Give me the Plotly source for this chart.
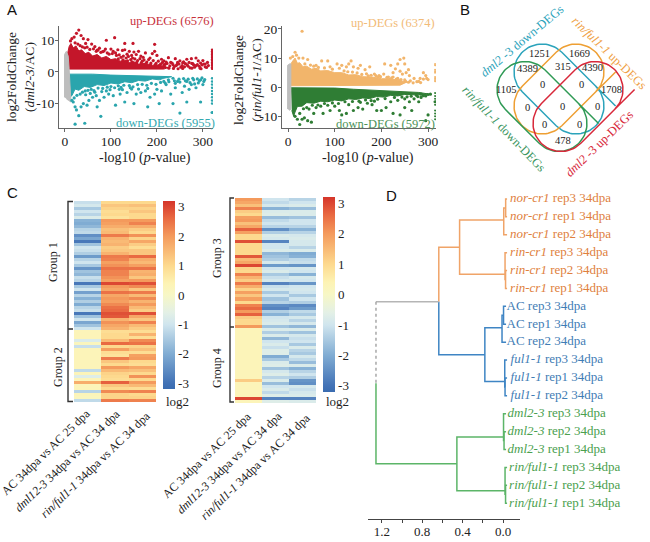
import numpy as np
import plotly.graph_objects as go

W, H = 650, 542
SERIF = "Liberation Serif"
SANS = "Liberation Sans"

# ---------- Panel A data ----------
a1_gray_x = [-1, -1, 3, 7, 9, 10, 13, 8, 3]
a1_gray_y = [-8, 5.5, 6.5, 5, 1, -1, -9.5, -9, -8.5]
a1_up_x = [6, 6, 9, 13, 18, 24, 30, 36, 44, 52, 60, 70, 80, 90, 100, 110, 120, 130, 140, 150, 160, 175, 190, 205, 215, 225, 215, 6]
a1_up_y = [0.9, 6, 8, 9, 7.6, 8.2, 6.6, 7, 5.8, 6.2, 5, 5.5, 4.4, 4.9, 3.9, 4.2, 3.4, 3.7, 3, 3.2, 2.5, 2.7, 2.1, 2.2, 1.7, 1.4, 0.9, 0.9]
a1_dn_x = [7, 60, 100, 200, 232, 215, 205, 190, 175, 160, 145, 130, 115, 100, 85, 70, 55, 42, 30, 22, 15, 10, 7]
a1_dn_y = [-0.7, -0.7, -1, -1.2, -1.5, -2.0, -2.5, -2.2, -2.9, -2.7, -3.4, -3.1, -3.8, -3.5, -4.3, -4, -4.9, -4.6, -5.8, -5.4, -7.5, -8, -7]
a1_up_pts_x = [30, 25, 35, 20, 15, 12, 40, 50, 108, 90, 130, 148, 195, 45, 58, 65, 75, 88, 100, 115, 125, 130, 140, 150, 160, 105, 110, 155, 165, 175, 190, 195, 200, 210, 215, 225, 230, 240, 245, 250, 258, 265, 270, 275, 280, 285, 290, 295, 300, 305, 310, 205, 215, 222, 235, 242, 248, 255, 262, 268, 278, 285, 292, 298, 305, 312, 85, 70, 135, 145, 170, 185,
               22, 28, 33, 38, 43, 48, 54, 62, 68, 72, 78, 82, 92, 96, 103, 112, 118, 122, 127, 133, 138, 143, 147, 152, 158, 163, 168, 172, 178, 182, 187, 192, 198, 203, 208, 212, 218, 220, 228, 233, 238, 244, 252, 256, 260, 266, 272, 276, 282, 288, 294, 302, 308, 116, 126, 136, 146, 156, 166, 176, 186, 196, 206, 216, 226, 236, 246, 256, 276, 296, 316]
a1_up_pts_y = [13.2, 12.2, 11.5, 11, 10.5, 9.8, 10.5, 10.2, 10.8, 10, 9, 9, 8.7, 9, 8.8, 8, 7.5, 7.2, 7.2, 7, 6.8, 7, 6.5, 6.3, 6.5, 6.5, 6, 5.5, 5, 6, 5.8, 6.5, 5.2, 4, 3.5, 4.5, 3, 4.2, 3, 3.5, 3.2, 4, 3, 4.2, 2.2, 4.4, 3.5, 2.8, 3.6, 2.5, 3, 2, 2.2, 2.7, 2.3, 2, 2.5, 2, 2.6, 1.8, 2.6, 2, 1.8, 2.2, 1.6, 2, 6.6, 6.9, 5.6, 5.2, 4.6, 4.4,
               9.2, 8.8, 8.3, 7.9, 7.6, 7.8, 7.1, 7.3, 6.5, 6.9, 6.2, 6.4, 6, 5.6, 5.8, 5.2, 5.4, 4.6, 5, 4.4, 4.9, 3.9, 4.4, 4.1, 3.6, 4.2, 3.4, 3.8, 3.1, 3.9, 2.8, 3.6, 2.7, 3.4, 2.5, 3, 2.4, 3.1, 1.9, 2.8, 1.7, 2.4, 1.5, 2.9, 1.6, 2.2, 1.3, 2.7, 1.5, 2.3, 1.2, 2.5, 1.4, 4.1, 3.8, 3.5, 3.2, 3, 2.9, 2.6, 2.3, 2.2, 1.9, 1.8, 1.2, 1.1, 1.0, 1.1, 1.2, 1.0]
a1_dn_pts_x = [22, 43, 78, 30, 25, 22, 18, 15, 35, 40, 48, 52, 60, 70, 75, 68, 85, 95, 105, 110, 130, 150, 180, 205, 235, 250, 265, 295, 320, 120, 135, 155, 165, 175, 185, 195, 200, 210, 220, 230, 240, 245, 255, 260, 265, 270, 275, 280, 285, 290, 295, 300, 302, 225, 235, 215, 145, 125, 90, 65, 55, 45,
               20, 26, 33, 38, 44, 50, 57, 63, 72, 82, 92, 100, 108, 116, 122, 128, 140, 148, 158, 168, 178, 188, 198, 208, 218, 226, 238, 248, 258, 268, 278, 288, 298, 240, 250, 262, 272, 282, 292, 304, 180, 160, 142, 118, 98, 80]
a1_dn_pts_y = [-16.5, -16.2, -14, -13.8, -12, -11, -9.5, -9, -11, -10, -10.5, -9, -8, -11, -9, -7.5, -8, -7, -7.5, -10.5, -9.5, -10, -11, -10, -10, -13, -9.5, -9.5, -12.8, -7, -6.5, -7, -6.5, -6, -8, -7, -5.5, -6, -4, -7, -5, -3, -6.5, -4.5, -3, -5.5, -4, -2.5, -5, -3.5, -2.5, -4, -3, -2.5, -2, -3, -5.4, -5.6, -6, -6.4, -6.8, -7.2,
               -8.2, -7.4, -7, -6.4, -6, -5.8, -5.5, -5.9, -5.1, -5.2, -4.8, -4.6, -5, -4.4, -4.9, -4.2, -4.3, -4.7, -4, -3.9, -4.2, -3.6, -3.9, -3.3, -3.5, -3.1, -2.8, -2.3, -2.1, -2.3, -2.0, -2.2, -1.9, -3.6, -3.2, -2.8, -3.4, -3.8, -2.9, -2.4, -5.2, -5.4, -5.0, -5.5, -5.6, -6.2]
a1_edge_up_y = [1, 1.5, 2, 2.5, 3, 3.5, 4, 4.5, 5, 5.5, 6, 6.5, 7]
a1_edge_dn_y = [-2, -3, -4, -5, -6, -7, -8, -9, -10]

a2_gray_x = [-1, -1, 3, 6, 6, 3]
a2_gray_y = [-7.5, 7.5, 8, 8, -7.5, -8]
a2_up_x = [6, 6, 10, 15, 20, 25, 32, 40, 50, 60, 70, 85, 100, 115, 130, 145, 160, 180, 200, 220, 240, 255, 240, 6]
a2_up_y = [0.5, 8, 9, 10, 8.2, 8.4, 7, 7.2, 6.2, 6.5, 5.6, 5.7, 5, 5, 4.2, 4.3, 3.6, 3.5, 2.9, 2.9, 2.2, 1.8, 0.7, 0.5]
a2_dn_x = [6, 100, 140, 200, 280, 300, 290, 270, 250, 235, 220, 205, 190, 175, 160, 145, 130, 115, 100, 85, 70, 55, 40, 30, 20, 15, 12, 8]
a2_dn_y = [-0.2, -0.3, -0.7, -1.2, -1.8, -2.3, -2.6, -2.6, -2.5, -3, -2.8, -3.4, -3.2, -3.9, -3.7, -4.2, -4, -4.7, -4.4, -5, -4.8, -5.5, -5.3, -6.5, -6.6, -8.5, -10, -8]
a2_up_pts_x = [30, 5, 15, 18, 10, 23, 32, 42, 72, 85, 105, 135, 130, 115, 125, 140, 155, 150, 165, 175, 207, 220, 240, 248, 250, 235, 240, 230, 225, 253, 258, 245, 260, 270, 280, 290, 295, 283, 290, 297, 300, 185, 195, 205, 215, 225, 235, 250, 90, 60, 110,
               36, 48, 55, 65, 78, 95, 120, 128, 138, 148, 158, 168, 178, 188, 198, 212, 222, 232, 242, 252, 262, 268, 276, 284, 172, 192, 218, 238, 258]
a2_up_pts_y = [19.2, 10, 12, 11, 10.5, 10, 10, 9.5, 9, 9, 8, 9, 8, 7.5, 7, 7, 7.5, 6.5, 6, 7, 8, 7.5, 9.5, 10, 8, 8, 5.5, 6.3, 5, 5, 6, 4.5, 4, 3, 2, 5, 4, 3, 2.8, 3, 2.6, 4.5, 4, 4.5, 3.5, 3.5, 3, 2.5, 7, 7.5, 6.5,
               8, 7.6, 7.2, 6.8, 6.6, 6.2, 5.6, 5.3, 5.2, 4.9, 4.4, 4.6, 4.1, 4, 3.6, 3.4, 3.2, 2.8, 2.6, 2.0, 2.2, 1.5, 1.9, 1.6, 3.9, 3.5, 2.6, 2.3, 1.7]
a2_dn_pts_x = [25, 50, 42, 30, 35, 20, 15, 25, 55, 60, 75, 90, 100, 110, 115, 125, 140, 150, 160, 190, 200, 210, 225, 240, 250, 265, 280, 295, 300, 170, 180, 220, 235, 250, 260, 270, 285, 295, 300, 255, 275, 315, 130, 70, 85, 45,
               33, 40, 52, 64, 78, 95, 108, 122, 138, 152, 166, 178, 192, 208, 228, 244, 264, 278, 290, 305, 285, 262, 240, 212, 185, 155]
a2_dn_pts_y = [-12.8, -12, -11.5, -11, -10.5, -11, -10, -9, -9, -7, -9, -8, -6.5, -8, -9.5, -9, -8, -7, -7.5, -8, -8, -7, -9, -9.5, -7, -8, -5, -11.5, -9.5, -5.5, -6, -5, -4.5, -4, -5, -4, -3.5, -3, -2.5, -3.3, -2.8, -5, -6, -6.5, -6.2, -7.5,
               -7.4, -7, -6.2, -6.1, -5.6, -5.4, -5.6, -5, -4.9, -4.8, -4.4, -4.6, -4.1, -3.9, -3.5, -3.4, -3.1, -3.2, -2.9, -2.4, -2.4, -2.2, -1.9, -2.6, -4.8, -5.2]
a2_edge_up_y = [2, 2.5, 3, 3.5, 5, 5.5, 6, 7.5, 8]
a2_edge_dn_y = [-2, -3, -4, -5, -6, -8, -9, -10, -11]

# ---------- Panel C data ----------
comp_left = ["AC 34dpa vs AC 25 dpa", "dml2-3 34dpa vs AC 34 dpa", "rin/ful1-1 34dpa vs AC 34 dpa"]
heat1_c1 = [-1.1, -0.9, -1.5, -1.0, -1.3, -0.8, -1.9, -2.0, -1.8, -1.3, -1.2, -2.5, -2.1, -2.9, -1.6, -1.0, -1.1, -1.4, -2.3, -1.3, -1.0, -1.5, -2.4, -1.6, -1.8, -1.1, -1.3, -2.9, -1.5, -1.0, -2.2, -1.3, -1.9, -1.4,
            -2.0, -1.3, -1.1, -2.9, -1.6, -1.0, -2.1, -1.6, -1.0,
            0.3, 0.3, 0.3, -0.8, 0.2, -1.1, 0.3, 0.3, 0.3, 0.3, 0.3, 0.3, 0.3, -1.2, 0.3, -0.7, 0.3, 1.7, 0.3, 0.3, -1.3, 0.3, 0.2, -1.2]
heat1_c2 = [1.0, 1.3, 1.1, 0.9, 1.0, 0.8, 2.0, 1.9, 1.7, 1.4, 1.5, 2.4, 1.6, 1.5, 1.6, 1.2, 1.3, 1.6, 2.4, 2.3, 1.9, 2.1, 2.5, 2.3, 2.3, 2.1, 1.9, 3.0, 2.0, 1.8, 2.5, 1.8, 2.0, 1.9, 2.2, 2.5, 2.6, 2.9, 2.8, 1.6, 2.1, 1.8, 1.6,
            0.9, 1.0, 1.0, 1.5, 2.6, 1.0, 1.9, 0.9, 0.8, 2.4, 1.3, 1.0, 2.0, 1.5, 1.1, 1.0, 0.9, 2.7, 1.3, 1.0, 2.2, 1.1, 1.1, 2.4]
heat1_c3 = [1.0, 1.4, 1.1, 1.3, 1.0, 1.0, 2.0, 2.3, 1.7, 1.2, 1.0, 2.1, 1.1, 1.8, 1.2, 0.9, 1.3, 1.3, 2.6, 1.7, 1.5, 1.9, 2.5, 1.6, 1.7, 1.3, 2.0, 2.9, 2.2, 1.3, 2.4, 1.5, 2.2, 1.6, 2.0, 1.5, 1.2, 2.9, 1.8, 1.3, 2.3, 1.5, 1.2,
            0.9, 1.6, 0.9, 2.2, 2.5, 1.1, 1.4, 0.9, 1.9, 2.0, 1.0, 0.9, 1.8, 1.4, 1.0, 2.1, 1.0, 2.0, 1.5, 0.9, 2.3, 1.0, 1.1, 2.3]
heat2_c1 = [2.0, 1.8, 1.4, 2.3, 1.2, 1.0, 1.9, 2.0, 1.4, 1.8, 2.7, 1.9, 1.0, 1.0, 2.9, 1.0, 1.0, 1.0, 1.0, 2.8, 1.5, 1.8, 3.0, 1.1, 1.0, 2.3, 1.6, 1.2, 2.4, 1.7, 1.1, 1.9, 1.3, 1.9, 1.0, 2.3, 2.6, 2.0, 2.7, 1.2, 1.0, 1.0, 2.0,
            0.3, 0.3, 0.3, 0.3, 0.3, 0.3, 0.3, 0.3, 0.3, 0.3, 0.3, 0.3, 0.3, 0.3, 0.3, 0.3, 0.3, 1.2, 0.3, 0.3, 0.3, 0.3, 0.3, 3.0, 0.3]
heat2_c2 = [-1.0, -1.2, -0.9, -1.9, -0.8, -0.7, -1.7, -1.2, -1.0, -1.3, -2.5, -1.4, -0.8, -0.9, -2.7, -1.0, -1.0, -0.8, -1.8, -1.6, -1.4, -0.9, -2.3, -1.0, -0.8, -1.5, -1.1, -0.9, -2.7, -1.1, -0.9, -1.5, -1.0, -1.6, -1.3, -2.5, -2.7, -1.4, -1.9, -1.0, -0.9, -0.8, -1.6,
            -0.8, -1.4, -0.8, -1.8, -1.0, -0.8, -1.1, -0.7, -0.7, -2.0, -1.5, -0.8, -0.7, -1.6, -0.9, -0.7, -1.3, -0.8, -1.7, -1.0, -0.8, -1.2, -0.7, -2.7, -0.7]
heat2_c3 = [-1.3, -1.0, -0.8, -1.7, -0.8, -0.8, -1.6, -1.0, -1.0, -1.3, -1.9, -1.3, -0.9, -0.8, -0.9, -0.9, -1.3, -0.8, -2.0, -1.9, -1.2, -1.1, -2.4, -0.9, -1.0, -1.9, -0.9, -1.0, -2.4, -1.0, -0.9, -1.0, -1.5, -1.0, -1.4, -2.6, -2.3, -1.2, -1.5, -0.9, -1.3, -0.9, -1.8,
            -0.8, -1.6, -0.9, -1.1, -1.0, -1.5, -0.8, -1.3, -1.5, -0.9, -1.2, -1.7, -0.8, -1.9, -1.3, -1.0, -1.4, -2.4, -2.5, -0.9, -1.1, -0.9, -0.8, -2.7, -0.8]
bar_ticks = [3, 2, 1, 0, -1, -2, -3]
bar_tick_text = ["3", "2", "1", "0", "-1", "-2", "-3"]

# ---------- Panel B data ----------
venn_counts = ["1251", "1669", "4389", "315", "4390", "1105", "1708", "0", "0", "0", "0", "0", "0", "0", "478"]
venn_cx = [559, 559, 542, 578]
venn_cy = [89, 89, 106.5, 106.5]
venn_dir = [1, -1, 1, -1]
venn_col = ["#2ba3bb", "#ee9f33", "#2f9a55", "#d8283a"]

# ---------- Panel D data ----------
leaf_labels = ["<i>nor-cr1</i> rep3 34dpa", "<i>nor-cr1</i> rep1 34dpa", "<i>nor-cr1</i> rep2 34dpa",
               "<i>rin-cr1</i> rep3 34dpa", "<i>rin-cr1</i> rep2 34dpa", "<i>rin-cr1</i> rep1 34dpa",
               "AC rep3 34dpa", "AC rep1 34dpa", "AC rep2 34dpa",
               "<i>ful1-1</i> rep3 34dpa", "<i>ful1-1</i> rep1 34dpa", "<i>ful1-1</i> rep2 34dpa",
               "<i>dml2-3</i> rep3 34dpa", "<i>dml2-3</i> rep2 34dpa", "<i>dml2-3</i> rep1 34dpa",
               "<i>rin/ful1-1</i> rep3 34dpa", "<i>rin/ful1-1</i> rep2 34dpa", "<i>rin/ful1-1</i> rep1 34dpa"]
leaf_x = [-0.07, -0.07, -0.07, -0.07, -0.07, -0.07, -0.035, -0.035, -0.035, -0.075, -0.075, -0.075, -0.045, -0.045, -0.045, -0.06, -0.06, -0.06]
# merge nodes: height, y0, y1, height of child 0, height of child 1
orange_nodes = [(-0.026, 0, 1, -0.04, -0.04), (-0.007, 0.5, 2, -0.026, -0.04), (-0.025, 4, 5, -0.04, -0.04),
                (-0.02, 3, 4.5, -0.04, -0.025), (0.43, 1.17, 4.2, -0.007, -0.02)]
blue_nodes = [(-0.005, 6, 7, -0.03, -0.03), (0.01, 6.5, 8, -0.005, -0.03), (-0.02, 10, 11, -0.04, -0.04),
              (-0.017, 9, 10.5, -0.04, -0.02), (0.18, 7.2, 10.2, 0.01, -0.017)]
green_nodes = [(-0.01, 13, 14, -0.03, -0.03), (-0.005, 12, 13.5, -0.03, -0.01), (-0.025, 16, 17, -0.04, -0.04),
               (-0.02, 15, 16.5, -0.04, -0.025), (0.457, 13.3, 16.3, -0.005, -0.02)]
dend_ticks = [1.2, 1.0, 0.8, 0.6, 0.4, 0.2, 0.0]
dend_tick_text = ["1.2", "", "0.8", "", "0.4", "", "0.0"]

# ---------- helpers ----------
def xd(a, b):
    return [a / W, b / W]
def yd(top, bot):
    return [1 - bot / H, 1 - top / H]

fig = go.Figure()
annots = []
def ann(text, px, py, size=12, color="#222", angle=0, font=SERIF, xa="center"):
    annots.append(dict(text=text, x=px / W, y=1 - py / H, xref="paper", yref="paper", showarrow=False,
                       xanchor=xa, yanchor="middle", textangle=angle, align="center",
                       font=dict(family=font, size=size, color=color)))

def poly(x, y, col, xa, ya):
    fig.add_trace(go.Scatter(x=x, y=y, mode="lines", fill="toself", fillcolor=col, line=dict(color=col, width=1),
                             xaxis=xa, yaxis=ya, hoverinfo="skip", showlegend=False))
def pts(x, y, col, xa, ya, size=3.2):
    fig.add_trace(go.Scatter(x=x, y=y, mode="markers", marker=dict(color=col, size=size, line=dict(width=0)),
                             xaxis=xa, yaxis=ya, hoverinfo="skip", showlegend=False))

RED, TEAL, ORANGE, GREEN, GRAY = "#c4162a", "#2aa5ad", "#f2b56b", "#2f7d34", "#bdbdbd"

# Panel A left
poly(a1_up_x, a1_up_y, RED, "x", "y")
poly(a1_dn_x, a1_dn_y, TEAL, "x", "y")
poly(a1_gray_x, a1_gray_y, GRAY, "x", "y")
pts(a1_up_pts_x, a1_up_pts_y, RED, "x", "y")
pts(a1_dn_pts_x, a1_dn_pts_y, TEAL, "x", "y")
pts([320] * len(a1_edge_up_y), a1_edge_up_y, RED, "x", "y", 2.5)
pts([320] * len(a1_edge_dn_y), a1_edge_dn_y, TEAL, "x", "y", 2.5)
# Panel A right
poly(a2_up_x, a2_up_y, ORANGE, "x2", "y2")
poly(a2_dn_x, a2_dn_y, GREEN, "x2", "y2")
poly(a2_gray_x, a2_gray_y, GRAY, "x2", "y2")
pts(a2_up_pts_x, a2_up_pts_y, ORANGE, "x2", "y2")
pts(a2_dn_pts_x, a2_dn_pts_y, GREEN, "x2", "y2")
pts([315] * len(a2_edge_up_y), a2_edge_up_y, ORANGE, "x2", "y2", 2)
pts([315] * len(a2_edge_dn_y), a2_edge_dn_y, GREEN, "x2", "y2", 2)

# Panel C heatmaps
cmin, cmax = -3.2, 3.2
stops = [(-3.2, "#3a6cb0"), (-3, "#4272b6"), (-2, "#80acd3"), (-1, "#d0e5ee"), (-0.6, "#e3f0e6"), (0, "#f7f7c6"),
         (0.4, "#fdf3b4"), (1, "#fdd98e"), (2, "#f49a5c"), (2.6, "#e96a42"), (3.2, "#d5352a")]
cscale = [[(v - cmin) / (cmax - cmin), c] for v, c in stops]

def heat(cols, xa, ya, bar_x, bar_top, bar_bot):
    z = np.array(cols).T.tolist()
    fig.add_trace(go.Heatmap(z=z, x=comp_left, xaxis=xa, yaxis=ya, zmin=cmin, zmax=cmax, colorscale=cscale,
                             hoverinfo="skip", xgap=0, ygap=0,
                             colorbar=dict(x=bar_x / W, xanchor="left", y=1 - bar_top / H, yanchor="top",
                                           len=(bar_bot - bar_top) / H, lenmode="fraction", thickness=12,
                                           thicknessmode="pixels", xpad=0, ypad=0, outlinewidth=0,
                                           tickvals=bar_ticks, ticktext=bar_tick_text, ticks="", ticklen=0,
                                           tickfont=dict(family=SERIF, size=13, color="#222"))))
heat([heat1_c1, heat1_c2, heat1_c3], "x3", "y3", 163, 201, 389)
heat([heat2_c1, heat2_c2, heat2_c3], "x4", "y4", 322.5, 197, 392)

# Panel B Venn
def stadium(cx, cy, d, L=24, r=28):
    t = np.linspace(-np.pi / 2, np.pi / 2, 40)
    u = np.r_[L + r * np.cos(t), -L - r * np.cos(t), L + r]
    v = np.r_[r * np.sin(t), -r * np.sin(t), -r]
    c = np.sqrt(0.5)
    return cx + c * (u - v), cy + d * c * (u + v)
for cx, cy, d, col in zip(venn_cx, venn_cy, venn_dir, venn_col):
    sx, sy = stadium(cx, cy, d)
    fig.add_trace(go.Scatter(x=sx, y=sy, mode="lines", line=dict(color=col, width=1.5), xaxis="x5", yaxis="y5",
                             hoverinfo="skip", showlegend=False))
venn_px = [(539, 53), (579, 53), (527, 69), (563, 66), (592, 68), (506, 89), (611, 89), (542, 85), (581, 85),
           (527, 107), (562, 106), (597, 106), (544, 125), (579, 124), (563, 141)]
for t, (px, py) in zip(venn_counts, venn_px):
    ann(t, px, py, size=10.5, color="#222")

# Panel D dendrogram
def segs(nodes):
    xs, ys = [], []
    for h, y0, y1, c0, c1 in nodes:
        xs += [c0, h, h, c1, None]
        ys += [y0, y0, y1, y1, None]
    return xs, ys
def dline(x, y, col, dash="solid", width=1.5):
    fig.add_trace(go.Scatter(x=x, y=y, mode="lines", line=dict(color=col, width=width, dash=dash), xaxis="x6", yaxis="y6",
                             hoverinfo="skip", showlegend=False))
C_O, C_B, C_G = "#f0a468", "#3f85c4", "#5cb568"
ox, oy = segs(orange_nodes); bx, by = segs(blue_nodes); gx, gy = segs(green_nodes)
dline(ox + [0.43, 0.43, 0.636, 0.636], oy + [None, 2.7, 2.7, 5.74], C_O)
dline(bx + [0.18, 0.18, 0.636, 0.636], by + [None, 8.7, 8.7, 5.74], C_B)
dline(gx + [0.457, 0.457, 1.258, 1.258], gy + [None, 14.8, 14.8, 10.3], C_G)
dline([0.636, 1.258], [5.74, 5.74], "#b5b5b5")
dline([1.258, 1.258], [5.74, 10.3], "#a8a8a8", "dot")
leaf_y = list(range(18))
label_cols = ["#e07f3e"] * 6 + ["#3f7db5"] * 6 + ["#4aa04e"] * 6
fig.add_trace(go.Scatter(x=leaf_x, y=leaf_y, mode="text", text=leaf_labels, textposition="middle right",
                         textfont=dict(family=SERIF, size=13, color=label_cols), cliponaxis=False,
                         xaxis="x6", yaxis="y6", hoverinfo="skip", showlegend=False))

# Text, panel letters
for t, px, py in [("A", 12, 10), ("B", 465, 10), ("C", 12, 193), ("D", 391, 195)]:
    ann(t, px, py, size=15, color="#111", font=SANS)
ann("up-DEGs (6576)", 172, 21, size=12.5, color="#c8323c")
ann("down-DEGs (5955)", 165, 123, size=12.5, color="#35a9b0")
ann("up-DEGs (6374)", 393, 23, size=12.5, color="#f2bb78")
ann("down-DEGs (5972)", 386, 124, size=12.5, color="#4d9358")
ann("log2FoldChange<br>(<i>dml2-3</i>/AC)", 21, 77, size=13.5, angle=-90)
ann("log2FoldChange<br>(<i>rin/ful1-1</i>/AC)", 247, 80, size=13.5, angle=-90)
ann("-log10 (<i>p</i>-value)", 145, 158, size=14)
ann("-log10 (<i>p</i>-value)", 368, 158, size=14)
ann("<i>dml2</i> -3 down-DEGs", 522, 41, size=12.5, color=venn_col[0], angle=-40)
ann("<i>rin/ful1-1</i> up-DEGs", 609, 53, size=12.5, color="#ef9f45", angle=44)
ann("<i>rin/ful1-1</i> down-DEGs", 504, 129, size=12.5, color="#3a9560", angle=46)
ann("<i>dml2</i> -3 up-DEGs", 599, 144, size=12.5, color=venn_col[3], angle=-44)
ann("Group 1", 53, 262, size=12, angle=-90)
ann("Group 2", 58, 367, size=12, angle=-90)
ann("Group 3", 217, 258, size=12, angle=-90)
ann("Group 4", 217, 368, size=12, angle=-90)
ann("log2", 177, 402, size=13)
ann("log2", 337, 402, size=13)
x_labels = ["AC 34dpa vs AC 25 dpa", "<i>dml12-3</i> 34dpa vs AC 34 dpa", "<i>rin/ful1-1</i> 34dpa vs AC 34 dpa"]
for t, c in zip(x_labels, [(46, 452), (67, 461), (95, 465)]):
    ann(t, c[0], c[1], size=12, angle=-44)
for t, c in zip(x_labels, [(207, 455), (229, 463), (255, 467)]):
    ann(t, c[0], c[1], size=12, angle=-44)

def bracket(x0, x1, top, mid, bot):
    p = lambda x, y: f"{x / W},{1 - y / H}"
    return dict(type="path", xref="paper", yref="paper", line=dict(color="#333", width=1.4),
                path=f"M{p(x1, top)} L{p(x0, top)} L{p(x0, bot)} L{p(x1, bot)} M{p(x0, mid)} L{p(x1, mid)}")

axis_line = dict(showgrid=False, zeroline=False, showline=True, linecolor="#666", linewidth=1, ticks="outside",
                 ticklen=3, tickcolor="#666", ticklabelstandoff=-2, tickfont=dict(family=SERIF, size=13.5, color="#222"))
hidden = dict(visible=False, showgrid=False, zeroline=False)

fig.update_layout(
    width=W, height=H, margin=dict(l=0, r=0, t=0, b=0, autoexpand=False), paper_bgcolor="white", plot_bgcolor="rgba(0,0,0,0)",
    showlegend=False, annotations=annots,
    shapes=[bracket(68, 73, 201.5, 329, 401.5), bracket(230, 234, 198, 327, 402)],
    xaxis=dict(domain=xd(59, 213), range=[-13, 322], tickvals=[0, 100, 200, 300], anchor="y", **axis_line),
    yaxis=dict(domain=yd(26, 128), range=[-17.7, 14.5], tickvals=[-10, 0, 10], ticktext=["-10", "0", "10"], anchor="x", **axis_line),
    xaxis2=dict(domain=xd(282, 436), range=[-13, 317], tickvals=[0, 100, 200, 300], anchor="y2", **axis_line),
    yaxis2=dict(domain=yd(26, 128), range=[-14, 21], tickvals=[-10, 0, 10, 20], ticktext=["-10", "0", "10", "20"], anchor="x2", **axis_line),
    xaxis3=dict(domain=xd(74, 156), anchor="y3", **hidden),
    yaxis3=dict(domain=yd(201, 402), autorange="reversed", anchor="x3", **hidden),
    xaxis4=dict(domain=xd(235, 316), anchor="y4", **hidden),
    yaxis4=dict(domain=yd(198, 403), autorange="reversed", anchor="x4", **hidden),
    xaxis5=dict(domain=xd(450, 650), range=[450, 650], anchor="y5", **hidden),
    yaxis5=dict(domain=yd(0, 175), range=[175, 0], anchor="x5", **hidden),
    xaxis6=dict(domain=xd(368, 520), range=[1.337, -0.168], anchor="y6", tickvals=dend_ticks, ticktext=dend_tick_text,
                showgrid=False, zeroline=False, showline=True, linecolor="#444", linewidth=1, ticks="outside",
                ticklen=3, tickcolor="#444", ticklabelstandoff=-3, tickfont=dict(family=SERIF, size=13, color="#222")),
    yaxis6=dict(domain=yd(190, 519), range=[17.88, -0.5], anchor="x6", **hidden),
)

fig.write_html("out.html", config={"displayModeBar": False},
               post_script="document.body.style.margin='0';document.body.style.overflow='hidden';")
